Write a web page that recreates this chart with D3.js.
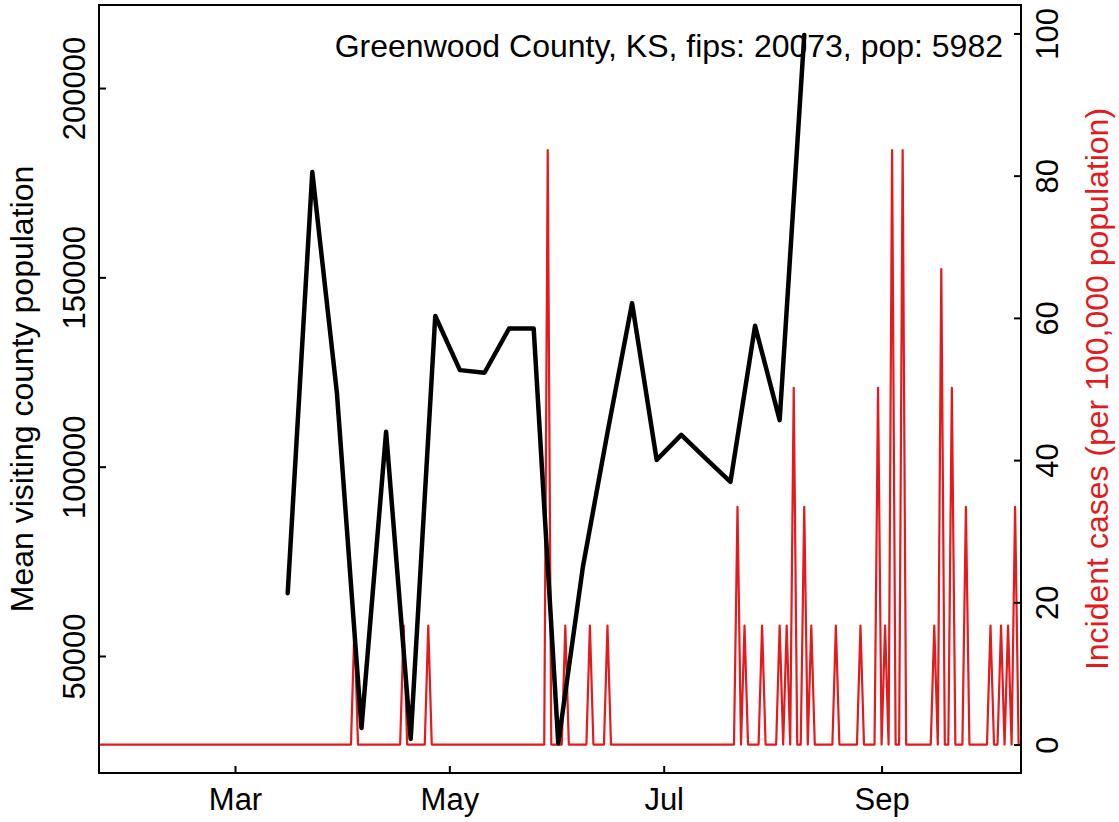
<!DOCTYPE html>
<html>
<head>
<meta charset="utf-8">
<script src="https://cdn.jsdelivr.net/npm/d3@7"></script>
<style>
  body { margin: 0; background: #fff; }
  svg { font-family: "Liberation Sans", Arial, sans-serif; }
</style>
</head>
<body>
<svg id="chart" width="1119" height="822"></svg>
<script>
// Weekly mean visiting county population (black line)
const visitDates = ["2020-03-16", "2020-03-23", "2020-03-30", "2020-04-06", "2020-04-13", "2020-04-20",
  "2020-04-27", "2020-05-04", "2020-05-11", "2020-05-18", "2020-05-25", "2020-06-01", "2020-06-08",
  "2020-06-15", "2020-06-22", "2020-06-29", "2020-07-06", "2020-07-13", "2020-07-20", "2020-07-27",
  "2020-08-03", "2020-08-10"];
const visitValues = [66600, 177800, 119500, 31000, 109200, 28100, 139800, 125500, 124800, 136500,
  136500, 26900, 73500, 109000, 143200, 101800, 108400, 102100, 96000, 137200, 112300, 214000];

// Daily incident cases per 100,000 (red line): days with cases, all other days are 0
const caseStart = "2020-01-22";
const caseEnd = "2020-10-10";
const caseDates = ["2020-04-04", "2020-04-18", "2020-04-25", "2020-05-29", "2020-06-03", "2020-06-10",
  "2020-06-15", "2020-07-22", "2020-07-24", "2020-07-29", "2020-08-03", "2020-08-05", "2020-08-07",
  "2020-08-10", "2020-08-12", "2020-08-19", "2020-08-26", "2020-08-31", "2020-09-02", "2020-09-04",
  "2020-09-07", "2020-09-16", "2020-09-18", "2020-09-21", "2020-09-25", "2020-10-02", "2020-10-05",
  "2020-10-07", "2020-10-09"];
const caseValues = [16.72, 16.72, 16.72, 83.58, 16.72, 16.72, 16.72, 33.43, 16.72, 16.72, 16.72, 16.72,
  50.15, 33.43, 16.72, 16.72, 16.72, 50.15, 16.72, 83.58, 83.58, 16.72, 66.87, 50.15, 33.43, 16.72,
  16.72, 16.72, 33.43];

const monthTicks = ["2020-03-01", "2020-05-01", "2020-07-01", "2020-09-01"];
const leftTicks = [50000, 100000, 150000, 200000];
const rightTicks = [0, 20, 40, 60, 80, 100];

const title = "Greenwood County, KS, fips: 20073, pop: 5982";
const red = "#e41a1c";
const fs = 31;      // tick labels
const fsLab = 32;   // titles

const parse = d3.utcParse("%Y-%m-%d");
const svg = d3.select("#chart");

const box = {left: 99, right: 1021, top: 5, bottom: 773};

const x = d3.scaleUtc()
    .domain([Date.UTC(2020, 0, 22, 7, 12), Date.UTC(2020, 9, 10, 16, 20)])
    .range([box.left, box.right]);
const yL = d3.scaleLinear().domain([19100, 221930]).range([box.bottom, box.top]);
const yR = d3.scaleLinear().domain([-4, 104]).range([box.bottom, box.top]);

// build daily case series
const caseMap = new Map(caseDates.map((d, i) => [d, caseValues[i]]));
const fmt = d3.utcFormat("%Y-%m-%d");
const daily = d3.utcDay.range(parse(caseStart), d3.utcDay.offset(parse(caseEnd), 1))
    .map(d => ({date: d, value: caseMap.get(fmt(d)) || 0}));

const visits = visitDates.map((d, i) => ({date: parse(d), value: visitValues[i]}));

svg.append("clipPath").attr("id", "plotclip")
  .append("rect")
    .attr("x", box.left).attr("y", box.top)
    .attr("width", box.right - box.left).attr("height", box.bottom - box.top);

// red cases line
svg.append("path")
    .datum(daily)
    .attr("clip-path", "url(#plotclip)")
    .attr("fill", "none")
    .attr("stroke", red)
    .attr("stroke-width", 2.2)
    .attr("stroke-linejoin", "round")
    .attr("d", d3.line().x(d => x(d.date)).y(d => yR(d.value)));

// title
svg.append("text")
    .attr("x", 1003).attr("y", 57)
    .attr("text-anchor", "end")
    .style("font-size", fsLab + "px")
    .text(title);

// black visiting line
svg.append("path")
    .datum(visits)
    .attr("fill", "none")
    .attr("stroke", "#000")
    .attr("stroke-width", 4.5)
    .attr("stroke-linejoin", "round")
    .attr("stroke-linecap", "round")
    .attr("d", d3.line().x(d => x(d.date)).y(d => yL(d.value)));

// box
svg.append("rect")
    .attr("x", box.left).attr("y", box.top)
    .attr("width", box.right - box.left).attr("height", box.bottom - box.top)
    .attr("fill", "none").attr("stroke", "#000").attr("stroke-width", 2);

// x axis
const gx = svg.append("g")
    .attr("transform", `translate(0,${box.bottom})`)
    .call(d3.axisBottom(x)
      .tickValues(monthTicks.map(parse))
      .tickFormat(d3.utcFormat("%b"))
      .tickSizeInner(-7).tickSizeOuter(0).tickPadding(15));
gx.select(".domain").remove();
gx.selectAll("line").attr("stroke-width", 2);
gx.selectAll("text").style("font-size", fs + "px").attr("fill", "#000");

// left axis
const gl = svg.append("g")
    .attr("transform", `translate(${box.left},0)`)
    .call(d3.axisLeft(yL).tickValues(leftTicks).tickFormat(d3.format("d"))
      .tickSizeInner(-7).tickSizeOuter(0));
gl.select(".domain").remove();
gl.selectAll("line").attr("stroke-width", 2);
gl.selectAll("text")
    .attr("x", null).attr("dy", null)
    .attr("text-anchor", "middle")
    .attr("transform", "translate(-14,0) rotate(-90)")
    .style("font-size", fs + "px").attr("fill", "#000");

// right axis
const gr = svg.append("g")
    .attr("transform", `translate(${box.right},0)`)
    .call(d3.axisRight(yR).tickValues(rightTicks)
      .tickSizeInner(-7).tickSizeOuter(0));
gr.select(".domain").remove();
gr.selectAll("line").attr("stroke-width", 2);
gr.selectAll("text")
    .attr("x", null).attr("dy", null)
    .attr("text-anchor", "middle")
    .attr("transform", "translate(37,0) rotate(-90)")
    .style("font-size", fs + "px").attr("fill", "#000");

// axis titles
svg.append("text")
    .attr("transform", `translate(33,${(box.top + box.bottom) / 2}) rotate(-90)`)
    .attr("text-anchor", "middle")
    .style("font-size", fsLab + "px")
    .text("Mean visiting county population");

svg.append("text")
    .attr("transform", `translate(1108,${(box.top + box.bottom) / 2}) rotate(-90)`)
    .attr("text-anchor", "middle")
    .attr("fill", red)
    .style("font-size", fsLab + "px")
    .text("Incident cases (per 100,000 population)");
</script>
</body>
</html>
